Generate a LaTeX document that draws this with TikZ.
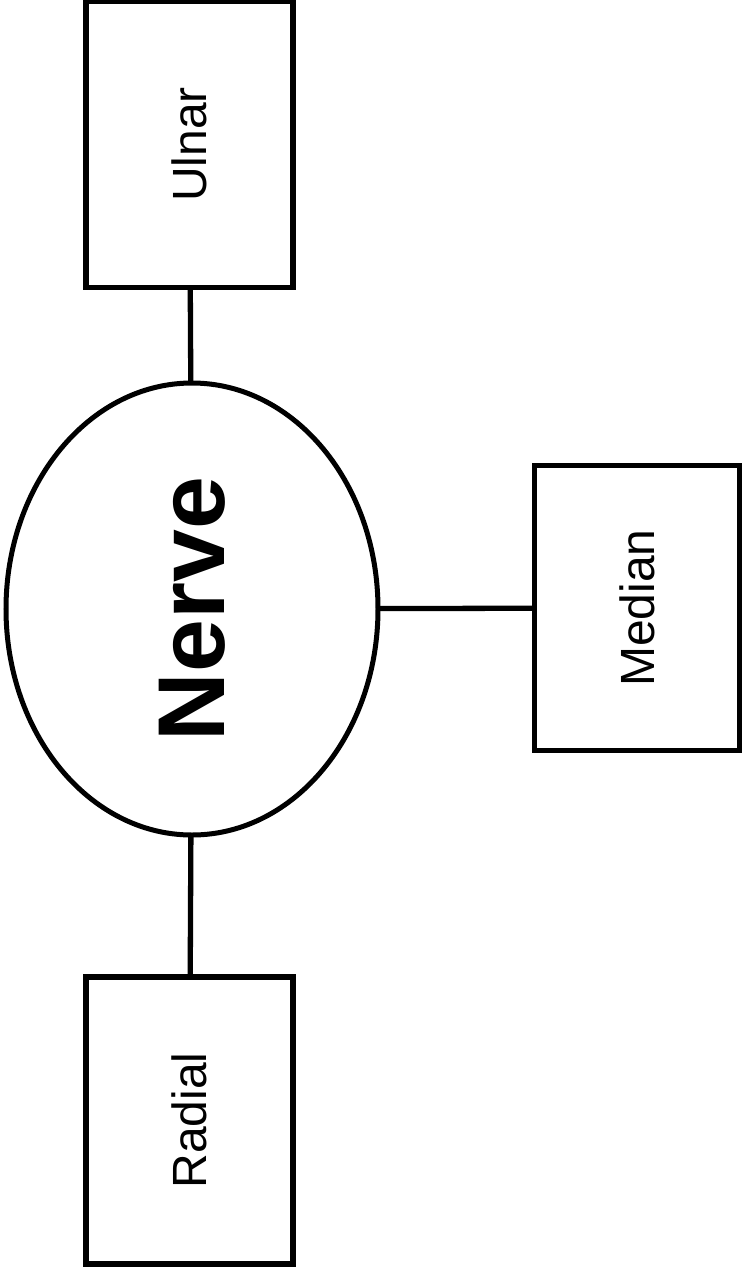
\documentclass[tikz,border=0pt]{standalone}
\usepackage{fontspec}
\setmainfont{Liberation Sans}
\usetikzlibrary{shapes.geometric}
\begin{document}
\begin{tikzpicture}[x=1pt,y=-1pt,
  box/.style={draw, line width=5.3pt, rectangle, inner sep=0pt, outer sep=0pt, rotate=90,
    font=\fontsize{48}{58}\selectfont},
  hub/.style={draw, line width=5pt, ellipse, inner sep=0pt, outer sep=0pt, rotate=90,
    minimum width=452pt, minimum height=372pt, font=\fontsize{95}{110}\selectfont\bfseries},
  link/.style={line width=5.3pt}]
\useasboundingbox (0,0) rectangle (746,1274);
\node[hub] (nerve) at (192,609) {Nerve};
\node[box, minimum width=286pt, minimum height=207pt] (ulnar) at (189.5,144.5) {Ulnar};
\node[box, minimum width=285pt, minimum height=205pt] (median) at (637,608) {Median};
\node[box, minimum width=287pt, minimum height=207pt] (radial) at (189.5,1120.5) {Radial};
\draw[link] (ulnar) -- (nerve);
\draw[link] (nerve) -- (median);
\draw[link] (nerve) -- (radial);
\end{tikzpicture}
\end{document}
